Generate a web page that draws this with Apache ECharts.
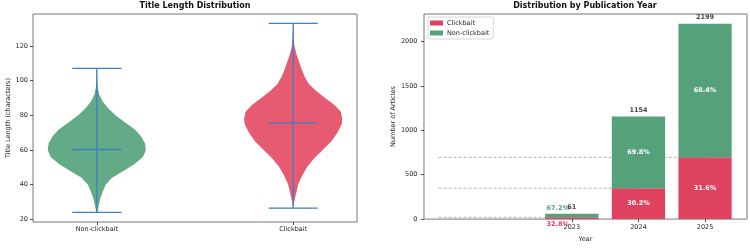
<!DOCTYPE html>
<html><head><meta charset="utf-8">
<script src="https://cdn.jsdelivr.net/npm/echarts@6/dist/echarts.min.js"></script>
<style>html,body{margin:0;padding:0;background:#fff}#c{width:750px;height:248px}</style>
</head><body><div id="c"></div>
<script>
// ---- data ----
const violinCategories = ['Non-clickbait', 'Clickbait'];
const violinPositions = [1, 2];
const violinMin = [24, 26.5];
const violinMean = [60.3, 75.6];
const violinMax = [107, 133];
const nonClickbaitY = [24, 28, 32, 36, 40, 44, 48, 52, 56, 60, 64, 68, 72, 76, 80, 84, 88, 92, 96, 100, 107];
const nonClickbaitDensity = [0.01, 0.04, 0.07, 0.12, 0.18, 0.31, 0.55, 0.77, 0.94, 1.0, 0.98, 0.90, 0.77, 0.57, 0.38, 0.23, 0.12, 0.05, 0.02, 0.01, 0.0];
const clickbaitY = [26.5, 30, 35, 40, 45, 50, 55, 60, 65, 70, 75, 78, 82, 86, 90, 94, 98, 102, 106, 110, 115, 120, 125, 133];
const clickbaitDensity = [0, 0.02, 0.06, 0.10, 0.18, 0.28, 0.42, 0.60, 0.78, 0.90, 0.99, 1.0, 0.97, 0.84, 0.65, 0.47, 0.32, 0.24, 0.18, 0.13, 0.07, 0.025, 0.01, 0];
const violinTicks = [20, 40, 60, 80, 100, 120];

const years = [2023, 2024, 2025];
const clickbaitCounts = [20, 348, 695];
const nonClickbaitCounts = [41, 806, 1504];
const guideStartYear = 2021;
const countTicks = [0, 500, 1000, 1500, 2000];

// ---- styling ----
const FONT = 'DejaVu Sans';
const violinColors = ['#63ab86', '#e65a72'];
const whiskerColor = '#3a7fc2';
const redColor = '#e0435f';
const greenColor = '#55a27a';
const spineColor = '#777';
const textColor = '#262626';

const violinShapes = [
  { y: nonClickbaitY, d: nonClickbaitDensity },
  { y: clickbaitY, d: clickbaitDensity }
];
const totals = years.map((y, i) => clickbaitCounts[i] + nonClickbaitCounts[i]);
const pct = (v, t) => (v / t * 100).toFixed(1) + '%';

function renderViolin(params, api) {
  const i = params.dataIndex;
  const pos = violinPositions[i];
  const shp = violinShapes[i];
  const pts = [];
  for (let k = 0; k < shp.y.length; k++) pts.push(api.coord([pos - 0.25 * shp.d[k], shp.y[k]]));
  for (let k = shp.y.length - 1; k >= 0; k--) pts.push(api.coord([pos + 0.25 * shp.d[k], shp.y[k]]));
  const line = (x1, y1, x2, y2) => {
    const a = api.coord([x1, y1]), b = api.coord([x2, y2]);
    return { type: 'line', shape: { x1: a[0], y1: a[1], x2: b[0], y2: b[1] },
      style: { stroke: whiskerColor, lineWidth: 1.3 } };
  };
  return { type: 'group', children: [
    { type: 'polygon', shape: { points: pts }, style: { fill: violinColors[i] } },
    line(pos, violinMin[i], pos, violinMax[i]),
    line(pos - 0.125, violinMin[i], pos + 0.125, violinMin[i]),
    line(pos - 0.125, violinMax[i], pos + 0.125, violinMax[i]),
    line(pos - 0.125, violinMean[i], pos + 0.125, violinMean[i])
  ]};
}

function makeBarRenderer(color, isTop) {
  return function (params, api) {
    const x = api.value(0), base = api.value(1), v = api.value(2), tot = api.value(3);
    const p0 = api.coord([x, base]), p1 = api.coord([x, base + v]);
    const w = api.size([0.8, 0])[0];
    const small = v < 100;
    const txt = {
      style: { text: pct(v, tot), fill: small ? color : '#fff', font: 'bold 6.5px ' + FONT }
    };
    let textConfig;
    if (!small) textConfig = { position: 'inside' };
    else if (isTop) textConfig = { position: 'top', distance: 2, offset: [-14, 0] };
    else textConfig = { position: 'bottom', distance: 2, offset: [-14, 0] };
    return {
      type: 'rect',
      shape: { x: p0[0] - w / 2, y: p1[1], width: w, height: p0[1] - p1[1] },
      style: { fill: color },
      textContent: txt,
      textConfig: textConfig
    };
  };
}

const chart = echarts.init(document.getElementById('c'), null, { renderer: 'canvas' });
const axisLabelStyle = { color: textColor, fontSize: 6.5, fontFamily: FONT };
const tickStyle = { show: true, length: 3, lineStyle: { color: textColor, width: 0.8 } };

chart.setOption({
  animation: false,
  textStyle: { fontFamily: FONT },
  title: [
    { text: 'Title Length Distribution', left: 195, top: 2, textAlign: 'center', padding: 0,
      textStyle: { fontSize: 8, fontWeight: 'bold', color: '#111', fontFamily: FONT } },
    { text: 'Distribution by Publication Year', left: 585, top: 2, textAlign: 'center', padding: 0,
      textStyle: { fontSize: 8, fontWeight: 'bold', color: '#111', fontFamily: FONT } }
  ],
  legend: {
    left: 428, top: 17, orient: 'vertical',
    data: ['Clickbait', 'Non-clickbait'],
    icon: 'rect', itemWidth: 13, itemHeight: 5, itemGap: 2,
    padding: [2, 4, 2, 2],
    borderColor: '#ccc', borderWidth: 0.8, borderRadius: 2, backgroundColor: '#fff',
    textStyle: { fontSize: 6.5, color: textColor, fontFamily: FONT, lineHeight: 8, padding: [0, 0, 0, -1] }
  },
  grid: [
    { left: 33, top: 14, width: 324, height: 208, show: true, borderColor: spineColor, borderWidth: 1, backgroundColor: 'transparent' },
    { left: 424, top: 14, width: 323, height: 207, show: true, borderColor: spineColor, borderWidth: 1, backgroundColor: 'transparent' }
  ],
  xAxis: [
    { type: 'value', gridIndex: 0, min: 0.675, max: 2.325,
      axisLine: { show: false }, splitLine: { show: false },
      axisTick: Object.assign({ customValues: violinPositions }, tickStyle),
      axisLabel: Object.assign({ customValues: violinPositions, margin: 4,
        formatter: v => violinCategories[violinPositions.indexOf(v)] || '' }, axisLabelStyle) },
    { type: 'value', gridIndex: 1, min: 2020.78, max: 2025.63,
      name: 'Year', nameLocation: 'middle', nameGap: 13.5,
      nameTextStyle: { fontSize: 6.5, color: textColor, fontFamily: FONT },
      axisLine: { show: false }, splitLine: { show: false },
      axisTick: Object.assign({ customValues: years }, tickStyle),
      axisLabel: Object.assign({ customValues: years, margin: 5, formatter: v => String(v) }, axisLabelStyle) }
  ],
  yAxis: [
    { type: 'value', gridIndex: 0, min: 18.5, max: 138.4,
      name: 'Title Length (characters)', nameLocation: 'middle', nameGap: 18,
      nameTextStyle: { fontSize: 6.5, color: textColor, fontFamily: FONT },
      axisLine: { show: false }, splitLine: { show: false },
      axisTick: Object.assign({ customValues: violinTicks }, tickStyle),
      axisLabel: Object.assign({ customValues: violinTicks, margin: 5, formatter: v => String(v) }, axisLabelStyle) },
    { type: 'value', gridIndex: 1, min: 0, max: 2309,
      name: 'Number of Articles', nameLocation: 'middle', nameGap: 22.5,
      nameTextStyle: { fontSize: 6.5, color: textColor, fontFamily: FONT },
      axisLine: { show: false }, splitLine: { show: false },
      axisTick: Object.assign({ customValues: countTicks }, tickStyle),
      axisLabel: Object.assign({ customValues: countTicks, margin: 6.5, formatter: v => String(v) }, axisLabelStyle) }
  ],
  series: [
    { type: 'custom', name: 'violins', xAxisIndex: 0, yAxisIndex: 0,
      renderItem: renderViolin,
      data: violinPositions.map((p, i) => [p, violinMean[i]]), encode: { x: 0, y: 1 } },
    { type: 'custom', name: 'guides', xAxisIndex: 1, yAxisIndex: 1, z: 1,
      renderItem: function (params, api) {
        const a = api.coord([guideStartYear, api.value(1)]);
        const b = api.coord([api.value(0), api.value(1)]);
        return { type: 'line', shape: { x1: a[0], y1: a[1], x2: b[0], y2: b[1] },
          style: { stroke: '#aaaaaa', lineWidth: 0.9, lineDash: [3, 2] } };
      },
      data: years.map((y, i) => [y, clickbaitCounts[i]]), encode: { x: 0, y: 1 } },
    { type: 'custom', name: 'Clickbait', xAxisIndex: 1, yAxisIndex: 1, z: 3,
      itemStyle: { color: redColor },
      renderItem: makeBarRenderer(redColor, false),
      data: years.map((y, i) => [y, 0, clickbaitCounts[i], totals[i]]), encode: { x: 0, y: 2 } },
    { type: 'custom', name: 'Non-clickbait', xAxisIndex: 1, yAxisIndex: 1, z: 3,
      itemStyle: { color: greenColor },
      renderItem: makeBarRenderer(greenColor, true),
      data: years.map((y, i) => [y, clickbaitCounts[i], nonClickbaitCounts[i], totals[i]]), encode: { x: 0, y: 2 } },
    { type: 'scatter', name: 'totals', xAxisIndex: 1, yAxisIndex: 1, z: 4,
      symbolSize: 0.01, silent: true,
      label: { show: true, position: 'top', distance: 2.5, formatter: p => String(p.value[1]),
        fontSize: 6.5, fontWeight: 'bold', color: '#111', fontFamily: FONT },
      data: years.map((y, i) => [y, totals[i]]) }
  ]
});
</script></body></html>
